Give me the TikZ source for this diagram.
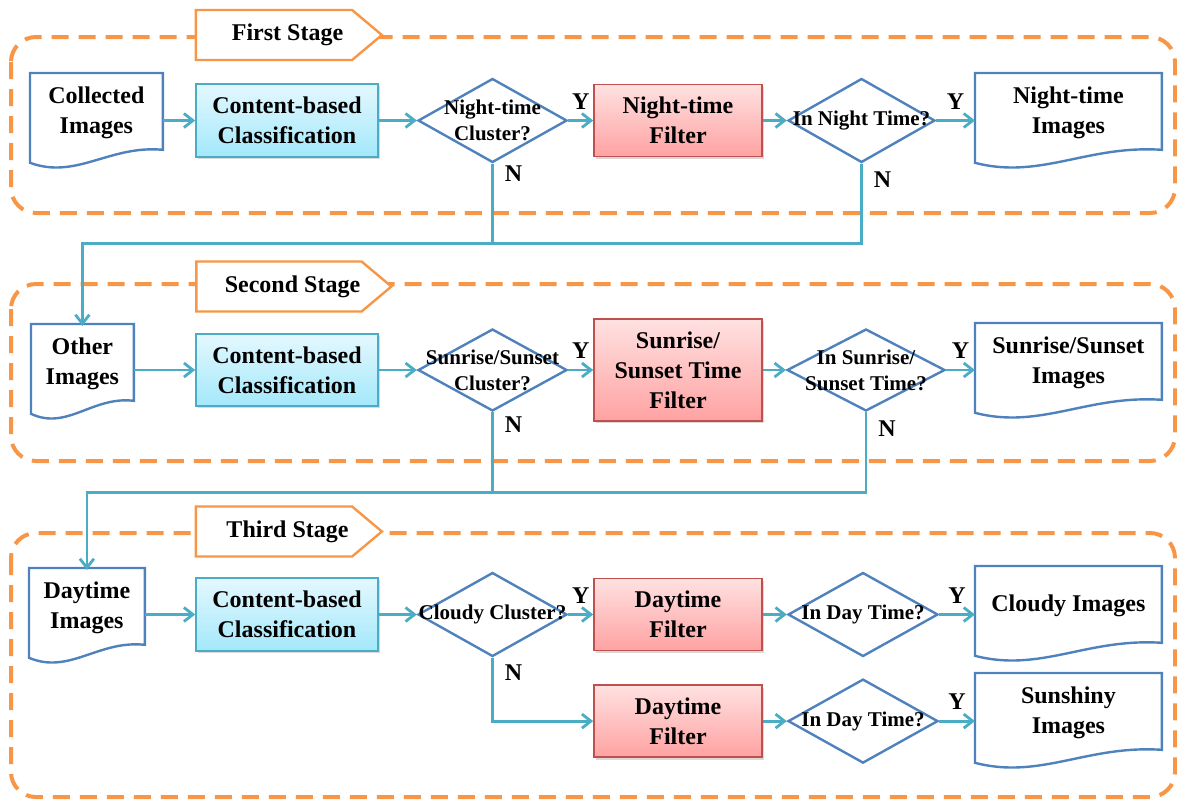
\documentclass[tikz,border=0pt]{standalone}
\usepackage{fontspec}
\setmainfont{Liberation Serif}
\usetikzlibrary{arrows.meta, positioning, calc, shapes.geometric, shapes.symbols, shadows}

\definecolor{docblue}{HTML}{4F81BD}
\definecolor{flowteal}{HTML}{4BACC6}
\definecolor{stageorange}{HTML}{F79646}
\definecolor{clstop}{HTML}{E4F8FE}
\definecolor{clsbot}{HTML}{A3E8FB}
\definecolor{filtborder}{HTML}{C0504D}
\definecolor{filttop}{HTML}{FFE1E1}
\definecolor{filtbot}{HTML}{FFA2A2}

\newcommand{\boxfont}{\fontsize{12}{15}\selectfont\bfseries}
\newcommand{\qfont}{\fontsize{10.5}{13}\selectfont\bfseries}

\tikzset{
  doc/.style={anchor=north west, minimum height=37pt, inner sep=0pt, align=center, font=\boxfont},
  docline/.style={draw=docblue, line width=1.2pt},
  cls/.style={draw=flowteal, line width=0.8pt, top color=clstop, bottom color=clsbot,
    minimum width=91pt, minimum height=36.5pt, inner sep=0pt, align=center, font=\boxfont,
    drop shadow={shadow xshift=1.2pt, shadow yshift=-1.2pt, opacity=0.3}},
  filt/.style={draw=filtborder, line width=0.8pt, top color=filttop, bottom color=filtbot,
    minimum width=84pt, minimum height=36pt, inner sep=0pt, align=center, font=\boxfont,
    drop shadow={shadow xshift=1.2pt, shadow yshift=-1.2pt, opacity=0.3}},
  decision/.style={diamond, draw=docblue, line width=1.2pt, fill=white, inner sep=0pt,
    minimum width=74.5pt, minimum height=42pt},
  qtext/.style={font=\qfont, align=center, inner sep=0pt},
  stagetag/.style={signal, signal to=east, signal pointer angle=80, draw=stageorange,
    line width=1.2pt, fill=white, minimum height=25pt, inner sep=0pt},
  tagtext/.style={font=\boxfont, inner sep=0pt, xshift=6.75pt},
  stageframe/.style={draw=stageorange, line width=2pt, dash pattern=on 8.5pt off 5pt,
    rounded corners=12.5pt},
  flow/.style={draw=flowteal, line width=1.4pt, -{Straight Barb[length=4.5pt, width=7pt]}},
  link/.style={draw=flowteal, line width=1.4pt},
  yeslabel/.style={above=5pt, inner sep=0pt, font=\boxfont},
  nolabel/.style={right=5.5pt, inner sep=0pt, font=\boxfont}
}

\begin{document}
\begin{tikzpicture}[x=0.5pt, y=-0.5pt]
\useasboundingbox (0,0) rectangle (1177,800);

% stage frames
\draw[stageframe] (11,37) rectangle (1175,213);
\draw[stageframe] (11,284) rectangle (1175,461);
\draw[stageframe] (11,533) rectangle (1175,797);
\node[stagetag, minimum width=93pt, label={[tagtext]center:First Stage}] (tag1) at (274,35) {};
\node[stagetag, minimum width=97.5pt, label={[tagtext]center:Second Stage}] (tag2) at (279,286.5) {};
\node[stagetag, minimum width=93pt, label={[tagtext]center:Third Stage}] (tag3) at (274,531.5) {};

% first stage
\node[doc, minimum width=66pt] (collected) at (30,75) {Collected\\Images};
\node[cls] (cls1) at (287,120.5) {Content-based\\Classification};
\node[decision, right=19pt of cls1, label={[qtext]center:{Night-time\\Cluster?}}] (nightq) {};
\node[filt, right=12.5pt of nightq] (nightf) {Night-time\\Filter};
\node[decision, minimum width=73.5pt, right=12pt of nightf, label={[qtext]center:{In Night Time?}}] (nighttq) {};
\node[doc, minimum width=93pt] (nightimg) at (975,75) {Night-time\\Images};

% second stage
\node[doc, minimum width=51pt] (other) at (31,326) {Other\\Images};
\node[cls, minimum height=36pt] (cls2) at (287,370) {Content-based\\Classification};
\node[decision, minimum height=41pt, right=19pt of cls2, label={[qtext]center:{Sunrise/Sunset\\Cluster?}}] (sunq) {};
\node[filt, minimum height=51pt, right=12.5pt of sunq] (sunf) {Sunrise/\\Sunset Time\\Filter};
\node[decision, minimum width=79pt, minimum height=41pt, right=11.5pt of sunf, label={[qtext]center:{In Sunrise/\\Sunset Time?}}] (suntq) {};
\node[doc, minimum width=93pt] (sunimg) at (975,325) {Sunrise/Sunset\\Images};

% third stage
\node[doc, minimum width=57.5pt] (daytime) at (29,570) {Daytime\\Images};
\node[cls] (cls3) at (287,614.5) {Content-based\\Classification};
\node[decision, right=19pt of cls3, label={[qtext]center:{Cloudy Cluster?}}] (cloudq) {};
\node[filt, right=12.5pt of cloudq] (dayf1) {Daytime\\Filter};
\node[decision, minimum width=75pt, right=12pt of dayf1, label={[qtext]center:{In Day Time?}}] (daytq1) {};
\node[doc, minimum width=93pt] (cloudy) at (975,568) {Cloudy Images};
\node[filt, below=16.5pt of dayf1] (dayf2) {Daytime\\Filter};
\node[decision, minimum width=75pt, right=12pt of dayf2, label={[qtext]center:{In Day Time?}}] (daytq2) {};
\node[doc, minimum width=93pt] (sunshiny) at (975,675) {Sunshiny\\Images};

% document outlines
\foreach \docname in {collected,nightimg,other,sunimg,daytime,cloudy,sunshiny}
  \draw[docline] ([yshift=1pt]\docname.north west) -- ([yshift=1pt]\docname.north east) -- (\docname.south east)
    .. controls ($(\docname.south east)!0.4!(\docname.south west)+(0,-5)$)
    and ($(\docname.south east)!0.65!(\docname.south west)+(0,30)$)
    .. ($(\docname.south west)+(0,13)$) -- cycle;

% first stage connectors
\draw[flow] (collected.east |- cls1.west) -- (cls1);
\draw[flow] (cls1) -- (nightq);
\draw[flow] (nightq) -- node[yeslabel] {Y} (nightf);
\draw[flow] (nightf) -- (nighttq);
\draw[flow] (nighttq) -- node[yeslabel] {Y} (nightimg.west |- nighttq.east);
\coordinate[below=40pt of nightq.south] (bus1);
\draw[link] (nightq.south) -- node[nolabel, pos=0.13] {N} (bus1);
\draw[flow] (nighttq.south) |- node[nolabel, pos=0.1] {N} (bus1) -| (other.north);

% second stage connectors
\draw[flow] (other.east |- cls2.west) -- (cls2);
\draw[flow] (cls2) -- (sunq);
\draw[flow] (sunq) -- node[yeslabel] {Y} (sunf);
\draw[flow] (sunf) -- (suntq);
\draw[flow] (suntq) -- node[yeslabel] {Y} (sunimg.west |- suntq.east);
\coordinate[below=40pt of sunq.south] (bus2);
\draw[link] (sunq.south) -- node[nolabel, pos=0.15] {N} (bus2);
\draw[flow] (suntq.south) |- node[nolabel, pos=0.1] {N} (bus2) -| (daytime.north);

% third stage connectors
\draw[flow] (daytime.east |- cls3.west) -- (cls3);
\draw[flow] (cls3) -- (cloudq);
\draw[flow] (cloudq) -- node[yeslabel] {Y} (dayf1);
\draw[flow] (dayf1) -- (daytq1);
\draw[flow] (daytq1) -- node[yeslabel] {Y} (cloudy.west |- daytq1.east);
\draw[flow] (cloudq.south) |- node[nolabel, pos=0.12] {N} (dayf2.west);
\draw[flow] (dayf2) -- (daytq2);
\draw[flow] (daytq2) -- node[yeslabel] {Y} (sunshiny.west |- daytq2.east);
\end{tikzpicture}
\end{document}
